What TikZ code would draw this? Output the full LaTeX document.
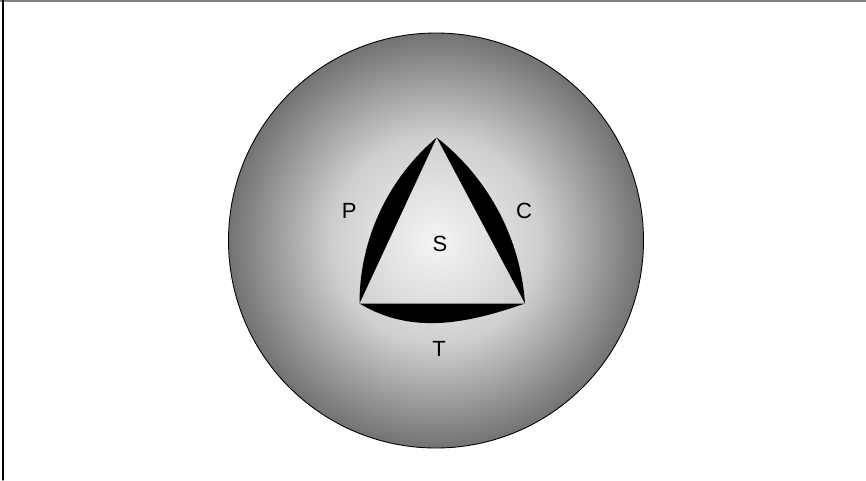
\documentclass[tikz,border=0pt]{standalone}
\usepackage{fontspec}
\setmainfont{Liberation Sans}
\usepackage{tikz}
\usetikzlibrary{calc}

\pgfdeclareradialshading{ballshade}{\pgfpoint{0bp}{0bp}}{%
  color(0bp)=(black!4); color(12.5bp)=(black!19); color(25bp)=(black!55); color(50bp)=(black!55)}

\tikzset{
  lens/.style={fill=black, draw=none},
  lbl/.style={inner sep=0pt, font=\fontsize{12.5}{15}\selectfont}
}

\begin{document}
\begin{tikzpicture}[scale=1.0, line cap=round, line join=round]
            \useasboundingbox (0,0) rectangle (17.32,9.6);
            \draw[black!50, line width=0.9pt] (0,9.585) -- (17.32,9.585);
            \draw[line width=0.6pt] (0.06,0) -- (0.06,9.6);

            \coordinate (O) at (8.72,4.79);
            \coordinate (A) at (7.19,3.53);
            \coordinate (B) at (10.5,3.53);
            \coordinate (C) at (8.735,6.85);

            \draw[shading=ballshade, line width=0.5pt] (O) circle[radius=4.15];

            % black crescents on the three sides
            \fill[lens] (A) arc[start angle=180, end angle=130.1, radius=4.34] -- cycle;
            \fill[lens] (B) arc[start angle=4, end angle=52, radius=4.621] -- cycle;
            \fill[lens] (A) .. controls (8.19,2.93) and (9.24,3.09) .. (B) -- cycle;

            \node[lbl] (lP) at (6.986,5.38) {P};
            \node[lbl] (lC) at (10.48,5.39) {C};
            \node[lbl] (lS) at (8.8,4.72) {S};
            \node[lbl] (lT) at (8.784,2.624) {T};

        \end{tikzpicture}
\end{document}
